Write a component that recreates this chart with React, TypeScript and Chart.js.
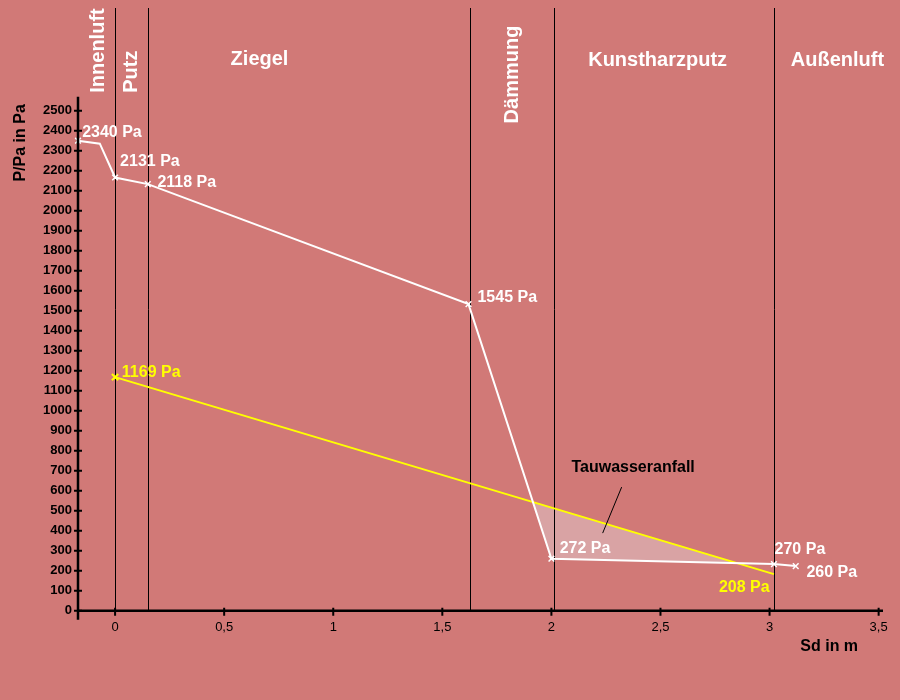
import React, { useEffect, useRef } from "react";
import { Chart, registerables } from "chart.js";

Chart.register(...registerables);

// ---- data ----
const sdWhite = [-0.17, -0.07, 0, 0.15, 1.62, 2.0, 3.02, 3.12];
const pWhite = [2350, 2335, 2166, 2133, 1533, 260, 233, 223];
const markWhite = [true, false, true, true, true, true, true, true];
const sdYellow = [0, 3.02];
const pYellow = [1168, 183];
const markYellow = [true, false];
const layerBounds = [0, 0.15, 1.625, 2.01, 3.02];
const xTicks = [0, 0.5, 1, 1.5, 2, 2.5, 3, 3.5];
const yTicks = [0, 100, 200, 300, 400, 500, 600, 700, 800, 900, 1000, 1100, 1200, 1300, 1400, 1500, 1600, 1700, 1800, 1900, 2000, 2100, 2200, 2300, 2400, 2500];
const layerNames = ["Innenluft", "Putz", "Ziegel", "Dämmung", "Kunstharzputz", "Außenluft"];
const whiteLabels = ["2340 Pa", "2131 Pa", "2118 Pa", "1545 Pa", "272 Pa", "270 Pa", "260 Pa"];
const yellowLabels = ["1169 Pa", "208 Pa"];
const noteText = "Tauwasseranfall";
const xTitle = "Sd in m";
const yTitle = "P/Pa in Pa";

// ---- styling / placement (data units) ----
const BG = "#d17977";
const FILL = "#d9a3a4";
const WHITE = "#ffffff";
const YELLOW = "#ffff00";
const FONT = '"Liberation Sans", Arial, sans-serif';

const layerPos = [
  { x: -0.049, y: 2801, rot: true },
  { x: 0.1, y: 2695, rot: true },
  { x: 0.662, y: 2728, rot: false },
  { x: 1.845, y: 2681, rot: true },
  { x: 2.487, y: 2722, rot: false },
  { x: 3.311, y: 2722, rot: false },
];
const whiteLabelPos = [
  { x: -0.151, y: 2370 },
  { x: 0.023, y: 2223 },
  { x: 0.194, y: 2121 },
  { x: 1.661, y: 1544 },
  { x: 2.038, y: 288 },
  { x: 3.023, y: 283 },
  { x: 3.169, y: 167 },
];
const yellowLabelPos = [
  { x: 0.031, y: 1169 },
  { x: 2.768, y: 93 },
];
const notePos = { x: 2.092, y: 694 };
const pointerLine = [
  { x: 2.235, y: 388 },
  { x: 2.322, y: 618 },
];
const xTitlePos = { x: 3.141, y: -200 };
const yTitlePos = { x: -0.4146, y: 2339 };

const overlay = {
  id: "overlay",
  beforeDatasetsDraw(chart: any) {
    const { ctx, chartArea, scales } = chart;
    const xs = scales.x;
    ctx.save();
    ctx.strokeStyle = "#000";
    ctx.lineWidth = 1;
    layerBounds.forEach((b) => {
      const px = Math.round(xs.getPixelForValue(b)) + 0.5;
      ctx.beginPath();
      ctx.moveTo(px, 8);
      ctx.lineTo(px, chartArea.bottom);
      ctx.stroke();
    });
    ctx.restore();
  },
  afterDraw(chart: any) {
    const { ctx, chartArea, scales } = chart;
    const xs = scales.x;
    const ys = scales.y;
    const X = (v: number) => xs.getPixelForValue(v);
    const Y = (v: number) => ys.getPixelForValue(v);
    ctx.save();
    // axes
    ctx.strokeStyle = "#000";
    ctx.lineWidth = 2.5;
    const y0 = Y(0);
    ctx.beginPath();
    ctx.moveTo(chartArea.left, chartArea.top);
    ctx.lineTo(chartArea.left, y0 + 9);
    ctx.moveTo(chartArea.left, y0);
    ctx.lineTo(chartArea.right, y0);
    ctx.stroke();
    ctx.lineWidth = 2;
    ctx.beginPath();
    yTicks.forEach((t) => {
      const py = Y(t);
      ctx.moveTo(chartArea.left - 4, py);
      ctx.lineTo(chartArea.left + 4, py);
    });
    xTicks.forEach((t) => {
      const px = X(t);
      ctx.moveTo(px, y0 - 3);
      ctx.lineTo(px, y0 + 5);
    });
    ctx.stroke();

    // pointer line
    ctx.lineWidth = 1;
    ctx.beginPath();
    ctx.moveTo(X(pointerLine[0].x), Y(pointerLine[0].y));
    ctx.lineTo(X(pointerLine[1].x), Y(pointerLine[1].y));
    ctx.stroke();

    ctx.textBaseline = "alphabetic";
    // layer names
    ctx.font = `bold 20px ${FONT}`;
    ctx.fillStyle = WHITE;
    layerNames.forEach((n, i) => {
      const p = layerPos[i];
      ctx.save();
      ctx.translate(X(p.x), Y(p.y));
      if (p.rot) ctx.rotate(-Math.PI / 2);
      ctx.textAlign = "center";
      ctx.fillText(n, 0, 0);
      ctx.restore();
    });

    // value labels
    ctx.font = `bold 16px ${FONT}`;
    ctx.textAlign = "left";
    ctx.fillStyle = WHITE;
    whiteLabels.forEach((t, i) => {
      ctx.fillText(t, X(whiteLabelPos[i].x), Y(whiteLabelPos[i].y));
    });
    ctx.fillStyle = YELLOW;
    yellowLabels.forEach((t, i) => {
      ctx.fillText(t, X(yellowLabelPos[i].x), Y(yellowLabelPos[i].y));
    });
    ctx.fillStyle = "#000";
    ctx.fillText(noteText, X(notePos.x), Y(notePos.y));

    // axis titles
    ctx.fillText(xTitle, X(xTitlePos.x), Y(xTitlePos.y));
    ctx.save();
    ctx.translate(X(yTitlePos.x), Y(yTitlePos.y));
    ctx.rotate(-Math.PI / 2);
    ctx.textAlign = "center";
    ctx.fillText(yTitle, 0, 0);
    ctx.restore();

    ctx.restore();
  },
};

export default function App() {
  const ref = useRef<HTMLCanvasElement | null>(null);
  useEffect(() => {
    if (!ref.current) return;
    const chart = new Chart(ref.current, {
      type: "line",
      data: {
        datasets: [
          {
            label: "p",
            data: sdWhite.map((x, i) => ({ x, y: pWhite[i] })),
            borderColor: WHITE,
            borderWidth: 2,
            pointStyle: "crossRot",
            pointRadius: markWhite.map((m) => (m ? 4 : 0)),
            pointBorderColor: WHITE,
            pointBorderWidth: 1.5,
            tension: 0,
            clip: false,
            fill: { target: 1, above: "rgba(0,0,0,0)", below: FILL },
          } as any,
          {
            label: "ps",
            data: sdYellow.map((x, i) => ({ x, y: pYellow[i] })),
            borderColor: YELLOW,
            borderWidth: 2,
            pointStyle: "crossRot",
            pointRadius: markYellow.map((m) => (m ? 4.5 : 0)),
            pointBorderColor: YELLOW,
            pointBorderWidth: 2,
            tension: 0,
            clip: false,
            fill: false,
          } as any,
        ],
      },
      options: {
        animation: false,
        responsive: false,
        devicePixelRatio: 1,
        layout: { padding: { left: 0, right: 17, top: 96.7, bottom: 0 } },
        plugins: {
          legend: { display: false },
          tooltip: { enabled: false },
          filler: { drawTime: "beforeDatasetsDraw" } as any,
        },
        scales: {
          x: {
            type: "linear",
            min: -0.17,
            max: 3.52,
            grid: { display: false, drawTicks: false },
            border: { display: false },
            afterBuildTicks: (s: any) => {
              s.ticks = xTicks.map((v) => ({ value: v }));
            },
            afterFit: (s: any) => {
              s.height = 700 - 610.7;
            },
            ticks: {
              padding: 9,
              color: "#000",
              font: { family: FONT, size: 13 },
              maxRotation: 0,
              autoSkip: false,
              callback: (v: any) => String(v).replace(".", ","),
            },
          },
          y: {
            type: "linear",
            min: 0,
            max: 2570,
            grid: { display: false, drawTicks: false },
            border: { display: false },
            afterBuildTicks: (s: any) => {
              s.ticks = yTicks.map((v) => ({ value: v }));
            },
            afterFit: (s: any) => {
              s.width = 78;
            },
            ticks: {
              padding: 6,
              color: "#000",
              font: { family: FONT, size: 13, weight: "bold" },
              autoSkip: false,
              callback: (v: any) => String(v),
            },
          },
        },
      },
      plugins: [overlay],
    });
    return () => chart.destroy();
  }, []);
  return (
    <div style={{ position: "absolute", left: 0, top: 0, width: 900, height: 700, background: BG }}>
      <canvas ref={ref} width={900} height={700} style={{ display: "block", width: 900, height: 700 }} />
    </div>
  );
}
